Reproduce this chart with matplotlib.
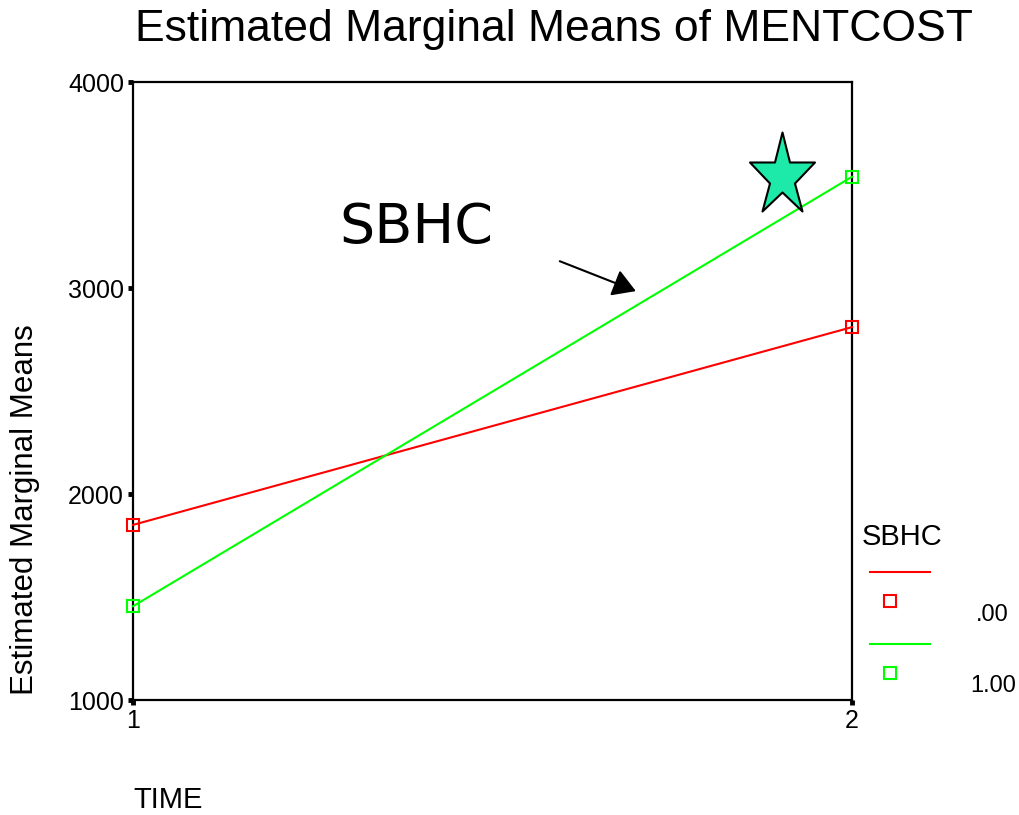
import matplotlib
matplotlib.use("Agg")
import matplotlib.pyplot as plt
from matplotlib.lines import Line2D
from matplotlib.path import Path
import numpy as np

plt.rcParams['font.family'] = ['Liberation Sans', 'DejaVu Sans']

# data
time_points = [1, 2]
groups = [".00", "1.00"]
means_00 = [1850, 2810]
means_100 = [1455, 3540]
colors = ["#ff0000", "#00ff00"]
yticks = [1000, 2000, 3000, 4000]

W, H = 1019, 815
fig = plt.figure(figsize=(W / 100, H / 100), dpi=100)
ax = fig.add_axes([133 / W, 1 - 700 / H, (852 - 133) / W, (700 - 82) / H])

for vals, c in zip([means_00, means_100], colors):
    ax.plot(time_points, vals, color=c, lw=1.5, marker='s', markersize=9,
            markerfacecolor='none', markeredgecolor=c, markeredgewidth=1.5,
            clip_on=False, zorder=3)

ax.set_xlim(1, 2)
ax.set_ylim(1000, 4000)
ax.set_xticks(time_points)
ax.set_xticklabels(["1", "2"])
ax.set_yticks(yticks)
ax.tick_params(direction='out', length=3.5, width=3.5, labelsize=18, pad=3)
for s in ax.spines.values():
    s.set_linewidth(1.6)
    s.set_color('black')

# star annotation (custom marker shape)
star_verts = np.array([
    (0, 40), (7.5, 10), (32.5, 10), (12.5, -11), (20, -39), (0, -20),
    (-20, -39), (-12.5, -11), (-32.5, 10), (-7.5, 10), (0, 40)])
star_path = Path(star_verts, closed=True)
ax.plot([1.903], [3563], marker=star_path, markersize=57.6,
        markerfacecolor='#1de9a8', markeredgecolor='black', markeredgewidth=1.5,
        linestyle='none', clip_on=False, zorder=4)

# text annotation with arrow
ax.annotate("", xy=(1.703, 2980), xytext=(1.59, 3135),
            arrowprops=dict(arrowstyle='-|>,head_length=0.5,head_width=0.3',
                            color='black', lw=1.5, mutation_scale=28))
ax.text(1.287, 3290, "SBHC", fontsize=40, family='DejaVu Sans',
        ha='left', va='center')

# title and axis labels
fig.text(554 / W, 1 - 29 / H, "Estimated Marginal Means of MENTCOST",
         fontsize=32, ha='center', va='center')
fig.text(25 / W, 1 - 510 / H, "Estimated Marginal Means", fontsize=22.5,
         rotation=90, ha='center', va='center')
fig.text(133 / W, 1 - 800 / H, "TIME", fontsize=21, ha='left', va='center')

# legend (manual layout)
fig.text(862 / W, 1 - 537 / H, "SBHC", fontsize=21, ha='left', va='center')
label_x = [976, 970]
for i, (g, c) in enumerate(zip(groups, colors)):
    y_line = 572 + i * 72
    y_mark = 601 + i * 72
    y_lab = 615 + i * 71
    fig.add_artist(Line2D([870 / W, 930 / W], [1 - y_line / H, 1 - y_line / H],
                          color=c, lw=1.5, transform=fig.transFigure))
    fig.add_artist(Line2D([890 / W], [1 - y_mark / H], marker='s', markersize=9,
                          markerfacecolor='none', markeredgecolor=c,
                          markeredgewidth=1.5, transform=fig.transFigure))
    fig.text(label_x[i] / W, 1 - y_lab / H, g, fontsize=17, ha='left', va='center')

fig.savefig("out.png", dpi=100)
